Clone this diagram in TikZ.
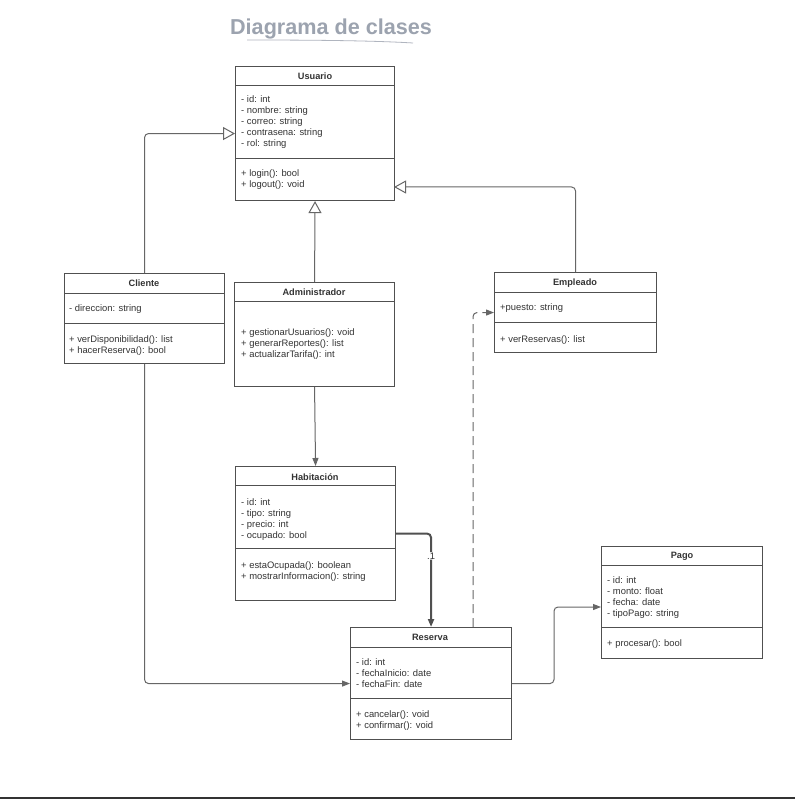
\documentclass[tikz,border=0pt]{standalone}
\usepackage{fontspec}
\setmainfont{Liberation Sans}
\usetikzlibrary{arrows.meta,calc}
\definecolor{boxc}{HTML}{505050}
\definecolor{linec}{HTML}{666666}
\definecolor{txtc}{HTML}{333333}
\definecolor{titlec}{HTML}{9CA3AF}
\newcommand\memb[4]{\foreach \txt [count=\i from 0] in {#3}{\node[mem] (#4\i) at (#1,{#2+11*\i}) {\txt};}}
\begin{document}
\begin{tikzpicture}[x=1pt,y=-1pt,
  cls/.style={draw=boxc, line width=1.1pt, anchor=north west, inner sep=0pt, fill=white},
  hdr/.style={font=\bfseries\fontsize{9.2}{10}\selectfont, text=txtc, inner sep=0pt},
  mem/.style={anchor=base west, inner sep=0pt, font=\fontsize{9.4}{10}\selectfont, text=txtc},
  sepl/.style={draw=boxc, line width=1pt},
  conn/.style={draw=linec, line width=1pt, rounded corners=4pt},
  gen/.style={conn, -{Triangle[length=12pt,width=13pt,fill=white]}},
  assoc/.style={conn, -{Triangle[length=8pt,width=6pt]}}]
\useasboundingbox (0,0) rectangle (795,799);
\fill[white] (0,0) rectangle (795,799);
% title
\node[font=\bfseries\fontsize{21.6}{24}\selectfont, text=titlec, inner sep=0pt] (title) at (331,29) {Diagrama de clases};
\draw[titlec!80, line width=0.8pt] (247,40) .. controls (330,40) and (380,41) .. (413,43);
% Usuario
\node[cls, minimum width=159pt, minimum height=134pt] (usuario) at (235,66) {};
\node[hdr] (usuarioH) at (315,76) {Usuario};
\draw[sepl] (235,86) -- (394,86);
\draw[sepl] (235,159) -- (394,159);
\memb{241}{103}{- id: int,- nombre: string,- correo: string,- contrasena: string,- rol: string}{ua}
\memb{241}{177}{+ login(): bool,+ logout(): void}{um}
% Cliente
\node[cls, minimum width=160pt, minimum height=90pt] (cliente) at (64,273) {};
\node[hdr] (clienteH) at (144,283) {Cliente};
\draw[sepl] (64,293) -- (224,293);
\draw[sepl] (64,323) -- (224,323);
\memb{69}{311}{- direccion: string}{ca}
\memb{69}{342}{+ verDisponibilidad(): list,+ hacerReserva(): bool}{cm}
% Administrador
\node[cls, minimum width=160pt, minimum height=104pt] (admin) at (234,282) {};
\node[hdr] (adminH) at (314,292) {Administrador};
\draw[sepl] (234,301) -- (394,301);
\memb{241}{335}{+ gestionarUsuarios(): void,+ generarReportes(): list,+ actualizarTarifa(): int}{am}
% Empleado
\node[cls, minimum width=162pt, minimum height=80pt] (empleado) at (494,272) {};
\node[hdr] (empleadoH) at (575,283) {Empleado};
\draw[sepl] (494,292) -- (656,292);
\draw[sepl] (494,322) -- (656,322);
\memb{500}{310}{+puesto: string}{ea}
\memb{500}{342}{+ verReservas(): list}{em}
% Habitacion
\node[cls, minimum width=160pt, minimum height=134pt] (habit) at (235,466) {};
\node[hdr] (habitH) at (315,477) {Habitación};
\draw[sepl] (235,485) -- (395,485);
\draw[sepl] (235,548) -- (395,548);
\memb{241}{505}{- id: int,- tipo: string,- precio: int,- ocupado: bool}{ha}
\memb{241}{568}{+ estaOcupada(): boolean,+ mostrarInformacion(): string}{hm}
% Reserva
\node[cls, minimum width=161pt, minimum height=112pt] (reserva) at (350,627) {};
\node[hdr] (reservaH) at (430,637) {Reserva};
\draw[sepl] (350,647) -- (511,647);
\draw[sepl] (350,698) -- (511,698);
\memb{356}{665}{- id: int,- fechaInicio: date,- fechaFin: date}{ra}
\memb{356}{717}{+ cancelar(): void,+ confirmar(): void}{rm}
% Pago
\node[cls, minimum width=161pt, minimum height=112pt] (pago) at (601,546) {};
\node[hdr] (pagoH) at (682,556) {Pago};
\draw[sepl] (601,565) -- (762,565);
\draw[sepl] (601,627) -- (762,627);
\memb{607}{583}{- id: int,- monto: float,- fecha: date,- tipoPago: string}{pa}
\memb{607}{646}{+ procesar(): bool}{pm}
% connector helper coordinates
\coordinate (uE) at (394,187);
\coordinate (rT) at (473,627);
\coordinate (pM) at (554,645);
\coordinate (pW) at (601,607);
% generalizations
\draw[gen] (cliente.north) |- (usuario.west);
\draw[gen] (admin.north) -- (usuario.south);
\draw[gen] (empleado.north) |- (uE);
% associations
\draw[assoc] (admin.south) -- (habit.north);
\draw[assoc, draw=boxc, line width=2pt] (habit.east) -| (reserva.north)
  node[pos=0.62, fill=white, inner sep=0.5pt, font=\fontsize{9.4}{10}\selectfont, text=txtc] (mult) {.1};
\draw[assoc, dashed, dash pattern=on 9pt off 5pt] (rT) |- (empleado.west);
\draw[assoc] (cliente.south) |- (reserva.west);
\draw[assoc] (reserva.east) -| (pM) |- (pW);
% bottom rule
\draw[line width=2pt, color=txtc] (0,797.5) -- (795,797.5);
\end{tikzpicture}
\end{document}
